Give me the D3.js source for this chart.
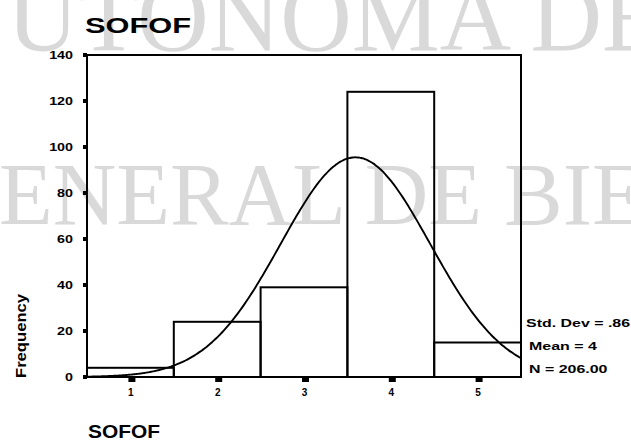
<!DOCTYPE html>
<html>
<head>
<meta charset="utf-8">
<script src="https://cdn.jsdelivr.net/npm/d3@7"></script>
<style>
  html, body { margin: 0; padding: 0; background: #fff; }
  svg { display: block; }
  text { font-family: "Liberation Sans", Arial, sans-serif; }
</style>
</head>
<body>
<svg id="chart" width="631" height="441"></svg>
<script>
// ---- data ----
const categories = [1, 2, 3, 4, 5];
const frequencies = [4, 24, 39, 124, 15];
const yTicks = [0, 20, 40, 60, 80, 100, 120, 140];
const xTickLabels = ["1", "2", "3", "4", "5"];
const statsLabels = ["Std. Dev = .86", "Mean = 4", "N = 206.00"];
const titleText = "SOFOF";
const xTitleText = "SOFOF";
const yTitleText = "Frequency";
const watermarkLines = ["UTONOMA DE", "ENERAL DE BIE"];

// ---- drawing ----
const svg = d3.select("#chart");
svg.append("rect").attr("width", 631).attr("height", 441).attr("fill", "#fff");

// watermark (behind everything)
const wm = svg.append("g").attr("fill", "#d9d9d9");
wm.append("text").attr("x", 7).attr("y", 50).attr("font-size", 99).style("font-family", "'Liberation Serif', serif").text(watermarkLines[0]);
wm.append("text").attr("x", -1).attr("y", 224).attr("font-size", 88).style("font-family", "'Liberation Serif', serif").text(watermarkLines[1]);

const x = d3.scaleLinear().domain([0.5, 5.5]).range([87, 521]);
const y = d3.scaleLinear().domain([0, 140]).range([377, 55]);

// bars
svg.append("g").selectAll("rect").data(categories).join("rect")
  .attr("x", d => x(d - 0.5))
  .attr("width", d => x(d + 0.5) - x(d - 0.5))
  .attr("y", (d, i) => y(frequencies[i]))
  .attr("height", (d, i) => y(0) - y(frequencies[i]))
  .attr("fill", "none").attr("stroke", "#000").attr("stroke-width", 2);

// normal curve fitted to the data
const N = d3.sum(frequencies);
const mean = d3.sum(categories, (c, i) => c * frequencies[i]) / N;
const variance = d3.sum(categories, (c, i) => frequencies[i] * (c - mean) ** 2) / (N - 1);
const sd = Math.sqrt(variance);
const pdf = v => N * Math.exp(-0.5 * ((v - mean) / sd) ** 2) / (sd * Math.sqrt(2 * Math.PI));
const curvePts = d3.range(0.5, 5.5001, 0.02).map(v => [v, pdf(v)]);
svg.append("path").datum(curvePts)
  .attr("d", d3.line().x(d => x(d[0])).y(d => y(d[1])).curve(d3.curveBasis))
  .attr("fill", "none").attr("stroke", "#000").attr("stroke-width", 1.9);

// frame
svg.append("rect")
  .attr("x", x(0.5)).attr("y", y(140))
  .attr("width", x(5.5) - x(0.5)).attr("height", y(0) - y(140))
  .attr("fill", "none").attr("stroke", "#000").attr("stroke-width", 2);

// y axis
const yAxis = svg.append("g").attr("transform", `translate(${x(0.5)},0)`)
  .call(d3.axisLeft(y).tickValues(yTicks).tickSize(0).tickPadding(0));
yAxis.select(".domain").remove();
yAxis.selectAll("text")
  .attr("x", -14 / 1.3)
  .attr("transform", "scale(1.3,1)")
  .attr("font-size", 11).attr("font-weight", "bold")
  .style("font-family", "'Liberation Sans', Arial, sans-serif");
svg.append("g").selectAll("rect").data(yTicks).join("rect")
  .attr("x", x(0.5) - 4).attr("y", d => y(d) - 2).attr("width", 4).attr("height", 4).attr("fill", "#000");

// x axis
const xAxis = svg.append("g").attr("transform", `translate(0,${y(0)})`)
  .call(d3.axisBottom(x).tickValues(categories).tickFormat((d, i) => xTickLabels[i]).tickSize(0).tickPadding(12));
xAxis.select(".domain").remove();
xAxis.selectAll("text")
  .attr("font-size", 10).attr("font-weight", "bold")
  .style("font-family", "'Liberation Sans', Arial, sans-serif");
svg.append("g").selectAll("rect").data(categories).join("rect")
  .attr("x", d => x(d) - 2).attr("y", y(0) + 1).attr("width", 7).attr("height", 4).attr("fill", "#000");

// titles
svg.append("text").attr("transform", "translate(85,33) scale(1.4,1)")
  .attr("font-size", 22).attr("font-weight", "bold").text(titleText);
svg.append("text").attr("transform", "translate(88,438) scale(1.1,1)")
  .attr("font-size", 19).attr("font-weight", "bold").text(xTitleText);
svg.append("text").attr("transform", "translate(26,336) rotate(-90)")
  .attr("text-anchor", "middle")
  .attr("font-size", 15).attr("font-weight", "bold")
  .attr("textLength", 84).attr("lengthAdjust", "spacingAndGlyphs")
  .text(yTitleText);

// stats
const statsY = [327, 350, 373];
svg.append("g").selectAll("text").data(statsLabels).join("text")
  .attr("transform", (d, i) => `translate(${i === 0 ? 526 : 529},${statsY[i]}) scale(1.45,1)`)
  .attr("font-size", 11).attr("font-weight", "bold")
  .text(d => d);
</script>
</body>
</html>
